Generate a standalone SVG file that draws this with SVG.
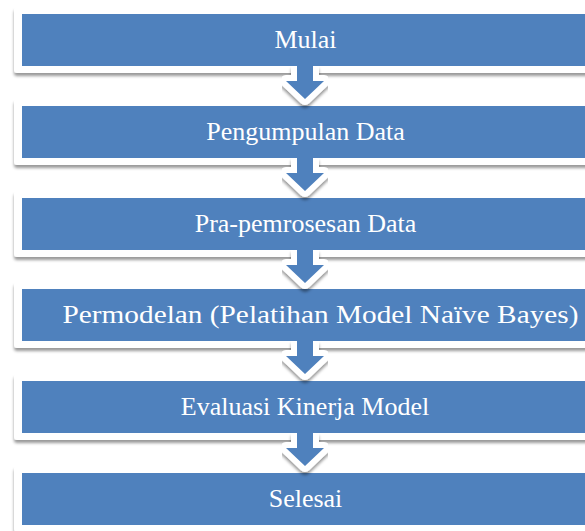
<svg xmlns="http://www.w3.org/2000/svg" xmlns:xlink="http://www.w3.org/1999/xlink" width="585" height="531" viewBox="0 0 585 531">
<style>
.outer{fill:#ffffff;filter:url(#sh);}
.inner{fill:#4F81BD;}
.lbl{font-family:"Liberation Serif","Times New Roman",serif;font-size:26px;fill:#ffffff;text-anchor:middle;}
.arw-line{fill:none;stroke:#ffffff;stroke-width:12;stroke-linejoin:round;stroke-linecap:butt;filter:url(#sh);}
.arw-fill{fill:#4F81BD;stroke:none;}
</style>
<defs>
<filter id="sh" x="-10%" y="-30%" width="120%" height="170%">
<feDropShadow dx="0" dy="3" stdDeviation="1.6" flood-color="#000000" flood-opacity="0.4"/>
</filter>
<path id="aline" d="M297,0 L297,15 L286,15 L305,33 L324,15 L313,15 L313,0"/>
<path id="afill" d="M297,-6 L313,-6 L313,15 L324,15 L305,33 L286,15 L297,15 Z"/>
</defs>
<rect width="585" height="531" fill="#ffffff"/>
<g id="node-mulai">
<rect class="outer" x="14" y="7" width="600" height="66" rx="3"/>
<rect class="inner" x="22" y="14" width="600" height="52"/>
<text class="lbl" x="305.5" y="48">Mulai</text>
</g>
<g id="node-pengumpulan">
<rect class="outer" x="14" y="99" width="600" height="66" rx="3"/>
<rect class="inner" x="22" y="106" width="600" height="52"/>
<text class="lbl" x="305.5" y="140">Pengumpulan Data</text>
</g>
<g id="node-pra">
<rect class="outer" x="14" y="191" width="600" height="66" rx="3"/>
<rect class="inner" x="22" y="198" width="600" height="52"/>
<text class="lbl" x="305.5" y="232">Pra-pemrosesan Data</text>
</g>
<g id="node-permodelan">
<rect class="outer" x="14" y="282" width="600" height="66" rx="3"/>
<rect class="inner" x="22" y="289" width="600" height="52"/>
<text class="lbl" x="320.5" y="323" textLength="516" lengthAdjust="spacingAndGlyphs">Permodelan (Pelatihan Model Naïve Bayes)</text>
</g>
<g id="node-evaluasi">
<rect class="outer" x="14" y="374" width="600" height="66" rx="3"/>
<rect class="inner" x="22" y="381" width="600" height="52"/>
<text class="lbl" x="305" y="415">Evaluasi Kinerja Model</text>
</g>
<g id="node-selesai">
<rect class="outer" x="14" y="466" width="600" height="66" rx="3"/>
<rect class="inner" x="22" y="473" width="600" height="52"/>
<text class="lbl" x="305.5" y="507">Selesai</text>
</g>
<g id="connectors">
<g transform="translate(0,66)"><use class="arw-line" xlink:href="#aline"/><use class="arw-fill" xlink:href="#afill"/></g>
<g transform="translate(0,158)"><use class="arw-line" xlink:href="#aline"/><use class="arw-fill" xlink:href="#afill"/></g>
<g transform="translate(0,250)"><use class="arw-line" xlink:href="#aline"/><use class="arw-fill" xlink:href="#afill"/></g>
<g transform="translate(0,341)"><use class="arw-line" xlink:href="#aline"/><use class="arw-fill" xlink:href="#afill"/></g>
<g transform="translate(0,433)"><use class="arw-line" xlink:href="#aline"/><use class="arw-fill" xlink:href="#afill"/></g>
</g>
</svg>
